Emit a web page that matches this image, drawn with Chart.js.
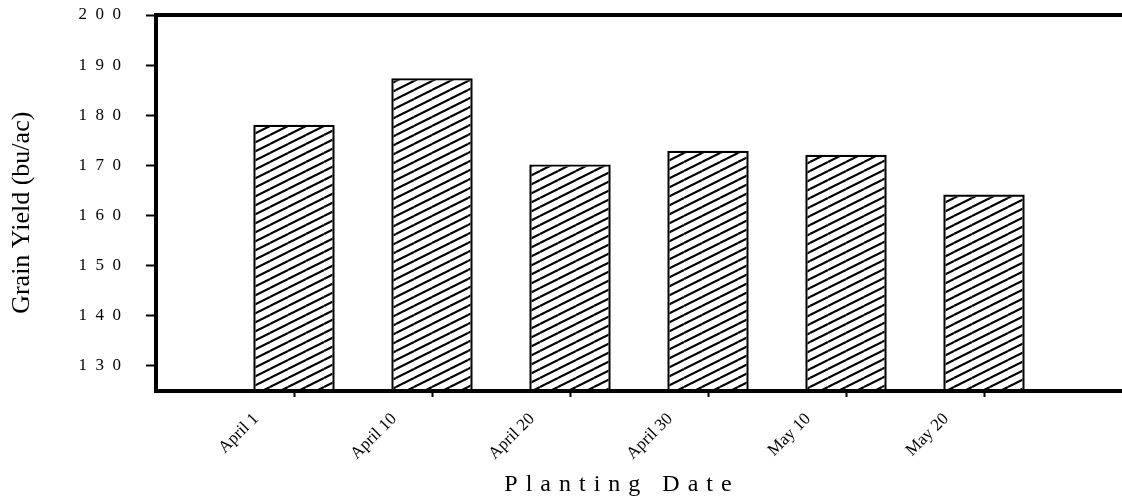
<!DOCTYPE html>
<html>
<head>
<meta charset="utf-8">
<script src="https://cdn.jsdelivr.net/npm/chart.js@4/dist/chart.umd.min.js"></script>
<style>
  html, body { margin: 0; padding: 0; background: #fff; }
</style>
</head>
<body>
<canvas id="barChart" width="1122" height="501"></canvas>
<script>
// Planting dates and grain yield (bu/ac)
const dates = ["April 1", "April 10", "April 20", "April 30", "May 10", "May 20"];
const yields = [178.1, 187.4, 170.2, 172.9, 172.1, 164.2];
const yTicks = [130, 140, 150, 160, 170, 180, 190, 200];

// empty slot on each side so the bars sit one step in from the edges
const labels = [""].concat(dates, [""]);
const values = [null].concat(yields, [null]);

const serif = "'Liberation Serif', 'Times New Roman', serif";
const ctx = document.getElementById("barChart").getContext("2d");

// diagonal "/" hatching for the bars
function hatchPattern() {
  const tile = document.createElement("canvas");
  tile.width = 18;
  tile.height = 9;
  const g = tile.getContext("2d");
  g.strokeStyle = "#000";
  g.lineWidth = 2.1;
  for (let k = -1; k <= 1; k++) {
    g.beginPath();
    g.moveTo(0, 9 + k * 9);
    g.lineTo(18, k * 9);
    g.stroke();
  }
  return ctx.createPattern(tile, "repeat");
}

// keep the plot box where the figure has it
function noPad(s) {
  s.paddingLeft = 0;
  s.paddingRight = 0;
  s.paddingTop = 0;
  s.paddingBottom = 0;
}

const config = {
  type: "bar",
  data: {
    labels: labels,
    datasets: [
      {
        label: "Grain Yield",
        data: values,
        backgroundColor: hatchPattern(),
        borderColor: "#000",
        borderWidth: 2.2,
        barPercentage: 0.59,
        categoryPercentage: 1,
      },
    ],
  },
  options: {
    responsive: false,
    animation: false,
    layout: { padding: { top: 15, right: 0, bottom: 0, left: 0 } },
    plugins: { legend: { display: false }, tooltip: { enabled: false } },
    scales: {
      x: {
        type: "category",
        offset: false,
        afterFit: (s) => { s.height = 110; noPad(s); },
        grid: {
          offset: false,
          drawOnChartArea: false,
          tickLength: 6,
          tickWidth: 2,
          tickColor: (c) => (c.index === 0 || c.index === labels.length - 1) ? "rgba(0,0,0,0)" : "#000",
        },
        border: { color: "#000", width: 4 },
        ticks: {
          autoSkip: false,
          minRotation: 45,
          maxRotation: 45,
          labelOffset: -38,
          padding: 12,
          color: "#000",
          font: { family: serif, size: 17 },
        },
        title: {
          display: true,
          text: "P \u200al \u200aa \u200an \u200at \u200ai \u200an \u200ag \u200a  \u200aD \u200aa \u200at \u200ae" + "       ",
          color: "#000",
          font: { family: serif, size: 24 },
          padding: { top: 0, bottom: 2 },
        },
      },
      x2: {
        type: "linear",
        position: "top",
        min: 0,
        max: 1,
        afterFit: (s) => { s.height = 0; noPad(s); },
        grid: { display: false, drawTicks: false },
        ticks: { display: false },
        border: { color: "#000", width: 4 },
      },
      y: {
        type: "linear",
        min: 125,
        max: 200,
        afterFit: (s) => { s.width = 156; noPad(s); },
        afterBuildTicks: (s) => { s.ticks = yTicks.map((v) => ({ value: v })); },
        grid: { drawOnChartArea: false, tickLength: 10, tickWidth: 2, tickColor: "#000" },
        border: { color: "#000", width: 4 },
        ticks: {
          padding: 25,
          color: "#000",
          font: { family: serif, size: 17 },
          callback: (v) => String(v).split("").join("  "),
        },
        title: {
          display: true,
          text: "Grain Yield (bu/ac)" + "   ",
          color: "#000",
          font: { family: serif, size: 26 },
          padding: { top: 7, bottom: 0 },
        },
      },
    },
  },
};

new Chart(ctx, config);
</script>
</body>
</html>
